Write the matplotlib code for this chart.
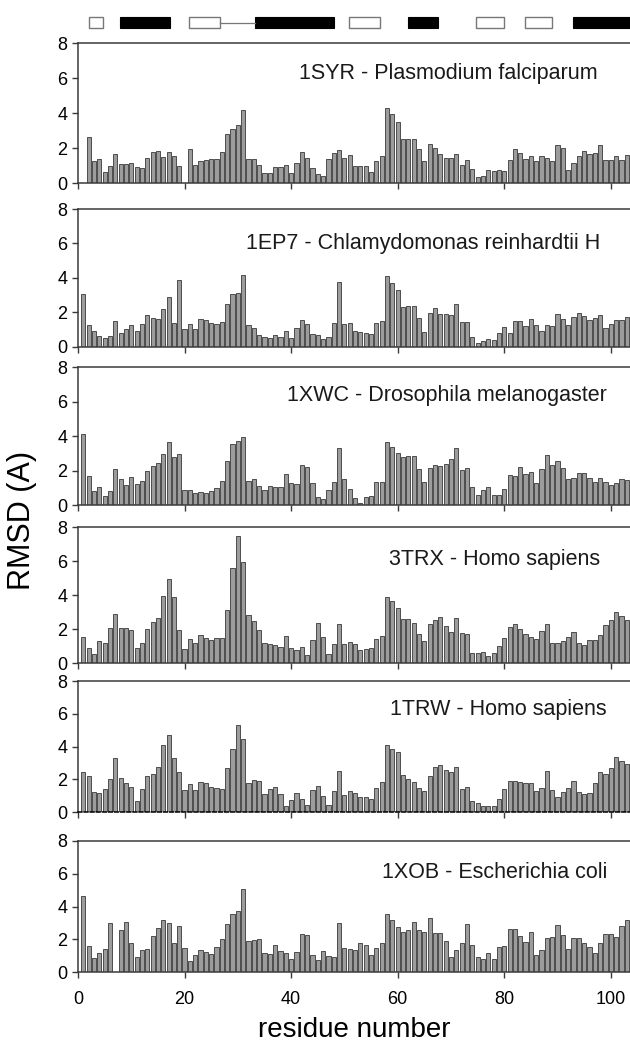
import matplotlib
matplotlib.use("Agg")
import matplotlib.pyplot as plt
import numpy as np

plt.rcParams['font.family'] = ['Liberation Sans', 'DejaVu Sans']

nan = np.nan

# secondary structure (residue start, end, kind)
ss_start = [2.1, 7.9, 20.8, 33.2, 50.8, 61.9, 74.7, 83.9, 92.9]
ss_end = [4.7, 17.3, 26.6, 48.0, 56.7, 67.5, 79.9, 88.9, 104.0]
ss_kind = ['strand', 'helix', 'strand', 'helix', 'strand', 'helix', 'strand', 'strand', 'helix']
loop_start, loop_end = 26.6, 33.2

labels = ["1SYR - Plasmodium falciparum",
          "1EP7 - Chlamydomonas reinhardtii H",
          "1XWC - Drosophila melanogaster",
          "3TRX - Homo sapiens",
          "1TRW - Homo sapiens",
          "1XOB - Escherichia coli"]

rmsd_1syr = [nan, 2.65, 1.25, 1.4, 0.65, 0.95, 1.65, 1.1, 1.1, 1.15, 0.9, 0.85, 1.45, 1.75, 1.85, 1.5, 1.8, 1.55, 0.95, nan,
             1.95, 1.05, 1.25, 1.3, 1.35, 1.4, 1.8, 2.8, 3.1, 3.3, 4.2, 1.35, 1.35, 1.05, 0.6, 0.55, 0.9, 0.9, 1.05, 0.6,
             1.15, 1.75, 1.45, 0.85, 0.5, 0.4, 1.35, 1.7, 1.9, 1.45, 1.6, 0.97, 0.97, 0.97, 0.63, 1.26, 1.53, 4.3, 3.96, 3.5,
             2.54, 2.54, 2.54, 1.95, 1.24, 2.22, 2.03, 1.66, 1.45, 1.45, 1.68, 1.01, 1.3, 0.8, 0.34, 0.38, 0.73, 0.67, 0.76, 0.7,
             1.34, 1.95, 1.7, 1.38, 1.53, 1.24, 1.55, 1.45, 1.24, 2.18, 2.03, 0.76, 1.17, 1.55, 1.82, 1.66, 1.72, 2.16, 1.34, 1.34,
             1.53, 1.3, 1.6]
rmsd_1ep7 = [3.04, 1.26, 0.93, 0.64, 0.5, 0.64, 1.51, 0.81, 1.0, 1.24, 0.91, 1.3, 1.84, 1.69, 1.59, 2.21, 2.87, 1.38, 3.88, 1.03,
             1.34, 1.0, 1.61, 1.57, 1.4, 1.32, 1.45, 2.5, 3.06, 3.1, 4.17, 1.26, 1.07, 0.68, 0.58, 0.52, 0.66, 0.58, 0.93, 0.52,
             1.1, 1.55, 1.34, 0.72, 0.66, 0.47, 0.58, 1.38, 3.78, 1.34, 1.4, 0.93, 0.83, 0.79, 0.74, 1.38, 1.51, 4.09, 3.7, 3.28,
             2.29, 2.36, 2.36, 1.67, 0.83, 1.98, 2.27, 1.92, 1.88, 1.84, 2.5, 1.45, 1.45, 0.58, 0.19, 0.31, 0.43, 0.39, 0.78, 1.16,
             0.78, 1.49, 1.47, 1.2, 1.59, 1.24, 0.93, 1.26, 1.18, 1.88, 1.59, 1.24, 1.74, 1.98, 1.76, 1.55, 1.65, 1.84, 1.09, 1.32,
             1.53, 1.55, 1.7]
rmsd_1xwc = [4.13, 1.7, 0.79, 1.07, 0.54, 0.81, 2.07, 1.49, 1.16, 1.65, 1.2, 1.4, 1.98, 2.27, 2.44, 2.95, 3.66, 2.81, 2.98, 0.87,
             0.89, 0.72, 0.74, 0.7, 0.83, 1.0, 1.4, 2.56, 3.55, 3.74, 3.95, 1.41, 1.51, 1.09, 0.89, 1.09, 1.07, 1.07, 1.8, 1.3,
             1.2, 2.31, 2.23, 1.28, 0.47, 0.37, 0.85, 1.34, 3.31, 1.5, 0.91, 0.41, 0.1, 0.47, 0.54, 1.36, 1.36, 3.68, 3.35, 3.02,
             2.81, 2.85, 2.85, 2.11, 1.34, 2.15, 2.31, 2.29, 2.4, 2.65, 3.33, 2.02, 2.13, 1.03, 0.58, 0.85, 1.07, 0.56, 0.56, 0.91,
             1.76, 1.69, 2.23, 1.82, 1.94, 1.3, 2.07, 2.93, 2.34, 2.54, 2.17, 1.51, 1.59, 1.88, 1.88, 1.55, 1.36, 1.57, 1.36, 1.14,
             1.3, 1.49, 1.43]
rmsd_3trx = [1.57, 0.92, 0.53, 1.33, 1.19, 2.09, 2.92, 2.07, 2.07, 1.96, 0.88, 1.21, 2.02, 2.43, 2.64, 3.97, 4.95, 3.89, 1.96, 0.84,
             1.41, 1.19, 1.68, 1.51, 1.35, 1.47, 1.47, 3.13, 5.58, 7.46, 5.97, 2.86, 2.49, 1.98, 1.19, 1.15, 1.1, 0.98, 1.59, 0.88,
             0.8, 0.98, 0.47, 1.35, 2.39, 1.55, 0.53, 1.15, 2.31, 1.12, 1.27, 1.12, 0.76, 0.84, 0.92, 1.43, 1.59, 3.89, 3.68, 3.27,
             2.6, 2.58, 2.39, 1.74, 1.33, 2.33, 2.52, 2.72, 2.17, 1.82, 2.68, 1.78, 1.74, 0.61, 0.61, 0.67, 0.43, 0.61, 1.04, 1.51,
             2.13, 2.29, 2.02, 1.74, 1.53, 1.41, 1.9, 2.29, 1.21, 1.21, 1.31, 1.55, 1.86, 1.19, 1.06, 1.39, 1.39, 1.68, 2.25, 2.52,
             3.03, 2.8, 2.54]
rmsd_1trw = [2.45, 2.2, 1.22, 1.18, 1.41, 2.04, 3.29, 2.06, 1.78, 1.55, 0.71, 1.41, 2.2, 2.33, 2.78, 4.12, 4.71, 3.31, 2.47, 1.33,
             1.71, 1.33, 1.82, 1.76, 1.57, 1.49, 1.43, 2.69, 3.88, 5.33, 4.47, 1.76, 1.98, 1.9, 1.12, 1.39, 1.57, 1.12, 0.41, 0.73,
             1.16, 0.8, 0.43, 1.37, 1.63, 0.98, 0.45, 1.27, 2.53, 1.08, 1.27, 1.16, 0.92, 0.92, 0.8, 1.51, 1.84, 4.12, 3.84, 3.65,
             2.29, 2.04, 1.86, 1.51, 1.27, 2.24, 2.73, 2.9, 2.57, 2.45, 2.76, 1.39, 1.55, 0.71, 0.55, 0.41, 0.41, 0.39, 0.78, 1.43,
             1.88, 1.88, 1.84, 1.8, 1.8, 1.27, 1.51, 2.51, 1.37, 0.96, 1.22, 1.51, 1.88, 1.24, 1.14, 1.16, 1.78, 2.47, 2.33, 2.67,
             3.39, 3.12, 2.92]
rmsd_1xob = [4.63, 1.57, 0.88, 1.18, 1.43, 3.0, nan, 2.55, 3.06, 1.76, 0.96, 1.35, 1.41, 2.2, 2.67, 3.16, 3.0, 1.76, 2.84, 1.47,
             0.69, 1.08, 1.35, 1.22, 1.14, 1.53, 2.02, 2.92, 3.57, 3.71, 5.06, 1.92, 1.94, 2.0, 1.18, 1.14, 1.63, 1.31, 1.18, 0.78,
             1.24, 2.33, 2.29, 1.04, 0.76, 1.27, 0.98, 0.92, 3.02, 1.49, 1.43, 1.35, 1.78, 1.67, 1.08, 1.49, 1.78, 3.57, 3.16, 2.78,
             2.43, 2.55, 3.04, 2.55, 2.43, 3.29, 2.41, 2.37, 1.88, 0.96, 1.35, 1.8, 2.96, 1.63, 0.94, 0.78, 1.2, 0.82, 1.53, 1.59,
             2.65, 2.63, 2.18, 1.86, 2.43, 1.04, 1.35, 2.08, 2.14, 2.86, 2.29, 1.41, 2.08, 2.06, 1.8, 1.51, 1.18, 1.8, 2.33, 2.31,
             2.12, 2.82, 3.16]

series = [rmsd_1syr, rmsd_1ep7, rmsd_1xwc, rmsd_3trx, rmsd_1trw, rmsd_1xob]

W, H = 630, 1042
fig = plt.figure(figsize=(W / 100, H / 100), dpi=100)

# panel extents in pixels (top, bottom)
tops = [43.3, 209.0, 367.3, 527.0, 681.0, 840.7]
bots = [183.0, 346.7, 505.0, 663.3, 812.3, 972.3]
left_px, right_px = 78, 630
label_xy = [(598, 73), (600, 243), (607, 395), (600, 560), (607, 710), (607, 873)]

xmax = 103.6
spine_c = '#3a3a3a'
bar_face = '#9c9c9c'
bar_edge = '#383838'

for i, vals in enumerate(series):
    t, b = tops[i], bots[i]
    ax = fig.add_axes([left_px / W, 1 - b / H, (right_px - left_px) / W, (b - t) / H])
    vals = np.array(vals, dtype=float)
    res = np.arange(1, len(vals) + 1)
    ok = ~np.isnan(vals)
    ax.bar(res[ok], vals[ok], width=0.78, color=bar_face, edgecolor=bar_edge, linewidth=0.6)
    ax.set_xlim(0, xmax)
    ax.set_ylim(0, 8)
    ax.set_yticks([0, 2, 4, 6, 8])
    ax.set_xticks([0, 20, 40, 60, 80, 100])
    ax.spines['right'].set_visible(False)
    for s in ['top', 'left', 'bottom']:
        ax.spines[s].set_color(spine_c)
        ax.spines[s].set_linewidth(1.1)
    ax.tick_params(direction='out', length=4.5, width=1.0, color=spine_c,
                   labelsize=13, labelcolor='black', pad=3)
    ax.tick_params(axis='x', pad=9)
    if i < len(series) - 1:
        ax.tick_params(axis='x', labelbottom=False)
    if i == 4:
        ax.spines['bottom'].set_linestyle((0, (2.5, 1.5)))
        ax.spines['bottom'].set_color('black')
    lx, ly = label_xy[i]
    ax.text((lx - left_px) / (right_px - left_px), (b - ly) / (b - t), labels[i],
            transform=ax.transAxes, ha='right', va='center', fontsize=15.5, color='#1a1a1a')

# secondary structure strip
sax = fig.add_axes([left_px / W, 1 - 35 / H, (right_px - left_px) / W, 25 / H])
sax.set_xlim(0, xmax)
sax.set_ylim(-1, 1)
sax.axis('off')
sax.plot([loop_start, loop_end], [0, 0], color='#777777', lw=0.9)
for s0, s1, k in zip(ss_start, ss_end, ss_kind):
    if k == 'helix':
        sax.barh(0, s1 - s0, left=s0, height=0.88, color='black', edgecolor='black', linewidth=0.8)
    else:
        sax.barh(0, s1 - s0, left=s0, height=0.88, color='white', edgecolor='#777777', linewidth=1.0)

fig.text(22 / W, 1 - 520 / H, 'RMSD (A)', rotation=90, ha='center', va='center', fontsize=22)
fig.text((left_px + right_px) / 2 / W, 1 - 1030 / H, 'residue number', ha='center', va='center', fontsize=20)

fig.savefig('out.png', dpi=100)
